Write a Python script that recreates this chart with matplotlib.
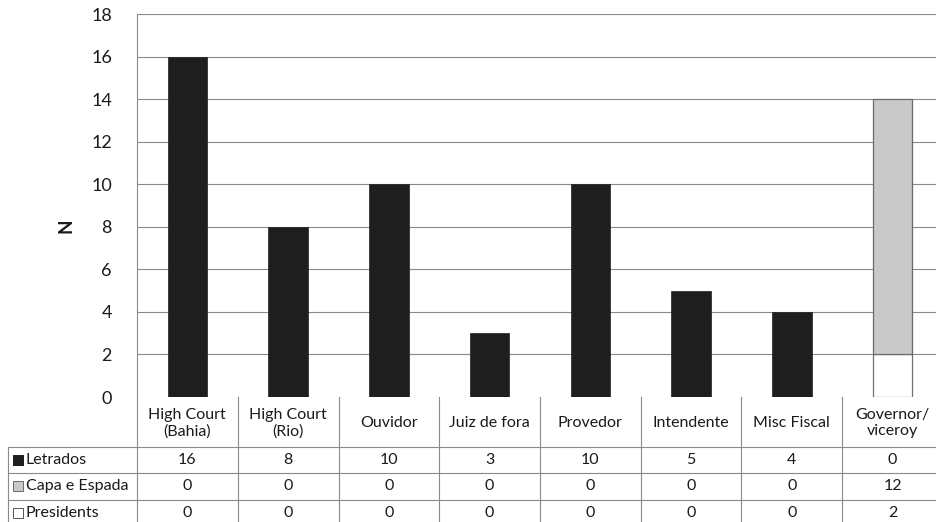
import matplotlib
matplotlib.use("Agg")
import matplotlib.pyplot as plt
from matplotlib.patches import Rectangle
from matplotlib.transforms import blended_transform_factory
import numpy as np

plt.rcParams['font.family'] = ['Lato', 'DejaVu Sans']

categories = ["High Court\n(Bahia)", "High Court\n(Rio)", "Ouvidor", "Juiz de fora",
              "Provedor", "Intendente", "Misc Fiscal", "Governor/\nviceroy"]
series_names = ["Letrados", "Capa e Espada", "Presidents"]
letrados = [16, 8, 10, 3, 10, 5, 4, 0]
capa_espada = [0, 0, 0, 0, 0, 0, 0, 12]
presidents = [0, 0, 0, 0, 0, 0, 0, 2]
y_ticks = [0, 2, 4, 6, 8, 10, 12, 14, 16, 18]

W, H = 937, 522
fig = plt.figure(figsize=(W / 100, H / 100), dpi=100)
ax_left, ax_right, ax_top, ax_bottom = 137, 943, 14, 397
ax = fig.add_axes([ax_left / W, 1 - ax_bottom / H,
                   (ax_right - ax_left) / W, (ax_bottom - ax_top) / H])

n = len(categories)
x = np.arange(n)
bar_w = 0.39
grid_col = "#8a8a8a"
text_col = "#1a1a1a"
fs = 11.5

for yv in y_ticks[1:]:
    ax.axhline(yv, color=grid_col, lw=0.8, zorder=0)

pres = np.array(presidents, dtype=float)
capa = np.array(capa_espada, dtype=float)
letr = np.array(letrados, dtype=float)

ax.bar(x, pres, bar_w, color="white",
       edgecolor=["#707070" if v > 0 else "none" for v in pres], lw=0.9, zorder=2)
ax.bar(x, capa, bar_w, bottom=pres, color="#c9c9c9",
       edgecolor=["#6a6a6a" if v > 0 else "none" for v in capa], lw=0.9, zorder=2)
ax.bar(x, letr, bar_w, bottom=pres + capa, color="#1e1e1e",
       edgecolor=["#1e1e1e" if v > 0 else "none" for v in letr], lw=0.5, zorder=2)

ax.set_xlim(-0.5, n - 0.5)
ax.set_ylim(0, 18)
ax.set_yticks(y_ticks)
ax.set_yticklabels([str(t) for t in y_ticks], fontsize=13, color=text_col)
ax.tick_params(axis="y", length=0, pad=18)
ax.set_xticks([])
for side in ["top", "right", "bottom"]:
    ax.spines[side].set_visible(False)
ax.spines["left"].set_color(grid_col)
ax.spines["left"].set_linewidth(0.8)
ax.spines["left"].set_zorder(3)

fig.text(66 / W, 1 - 226 / H, "N", rotation=90, fontsize=13.5, fontweight="bold",
         color=text_col, ha="center", va="center")

# Data table beneath the chart
trans = blended_transform_factory(ax.transData, fig.transFigure)
def fy(py):
    return 1 - py / H

header_top, header_bot = 397, 447
row_h = 26.3
row_tops = [header_bot + i * row_h for i in range(3)]
table_bottom = header_bot + 3 * row_h + 2
label_left = 8

# vertical column lines
for i in range(n + 1):
    xb = i - 0.5
    fig.add_artist(plt.Line2D([xb, xb], [fy(header_top), fy(table_bottom)],
                              transform=trans, color=grid_col, lw=0.8))
# horizontal lines across data columns
for py in [header_bot] + [t + row_h for t in row_tops]:
    fig.add_artist(plt.Line2D([label_left / W, ax_right / W], [fy(py), fy(py)],
                              transform=fig.transFigure, color=grid_col, lw=0.8))
# left border of row-label column
fig.add_artist(plt.Line2D([label_left / W, label_left / W], [fy(header_bot), fy(table_bottom)],
                          transform=fig.transFigure, color=grid_col, lw=0.8))

for i, c in enumerate(categories):
    fig.text(i, fy((header_top + header_bot) / 2 + 1), c, transform=trans,
             ha="center", va="center", fontsize=fs, color=text_col, linespacing=1.2)

key_colors = ["#1e1e1e", "#c9c9c9", "white"]
key_edges = ["#1e1e1e", "#6a6a6a", "#555555"]
table_vals = [letrados, capa_espada, presidents]
for r, (name, vals) in enumerate(zip(series_names, table_vals)):
    cy = row_tops[r] + row_h / 2
    ks = 10
    fig.add_artist(Rectangle(((label_left + 5) / W, fy(cy + ks / 2)), ks / W, ks / H,
                             transform=fig.transFigure, facecolor=key_colors[r],
                             edgecolor=key_edges[r], lw=0.7))
    fig.text((label_left + 18) / W, fy(cy), name, ha="left", va="center",
             fontsize=fs, color=text_col)
    for i, v in enumerate(vals):
        fig.text(i, fy(cy), str(v), transform=trans, ha="center", va="center",
                 fontsize=fs, color=text_col)

fig.savefig("out.png", dpi=100, facecolor="white")
